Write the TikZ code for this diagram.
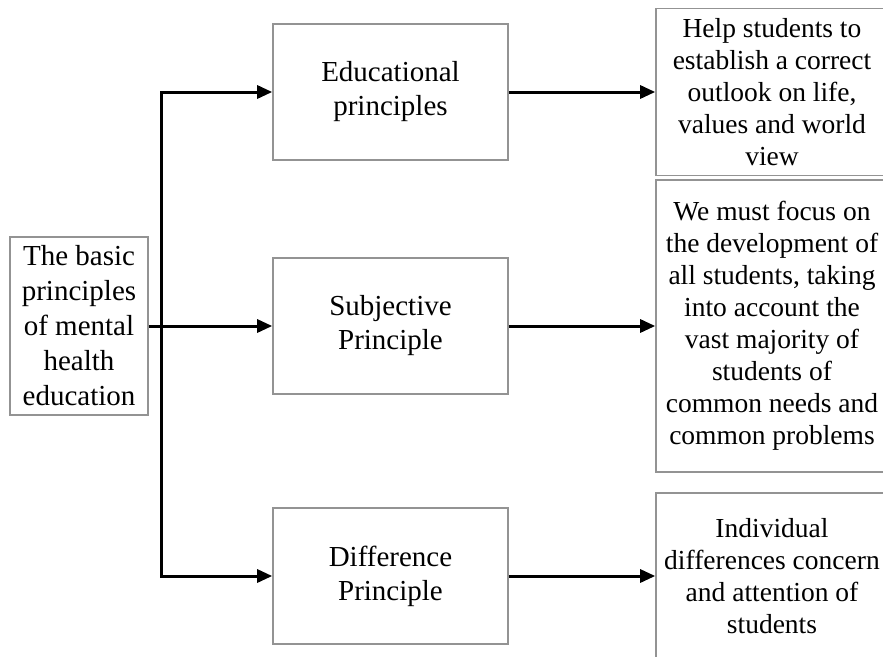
\documentclass[tikz,border=0pt]{standalone}
\usepackage{fontspec}
\setmainfont{Liberation Serif}
\usetikzlibrary{arrows.meta, positioning}

\begin{document}
\begin{tikzpicture}[
    x=1pt, y=-1pt,
    font=\fontsize{29}{34}\selectfont,
    >={Triangle[length=15pt,width=13pt]},
    every node/.style={align=center, inner sep=0pt},
    rootbox/.style={draw=gray!85, line width=1.6pt,
                    minimum width=138pt, minimum height=178pt,
                    font=\fontsize{29}{35}\selectfont},
    midbox/.style ={draw=gray!85, line width=1.6pt,
                    minimum width=235pt, minimum height=136pt},
    outbox/.style ={draw=gray!85, line width=1.6pt,
                    minimum width=232pt,
                    font=\fontsize{27.5}{32}\selectfont},
    arrow/.style  ={->, draw=black, line width=3pt},
  ]

  %% --- canvas ---------------------------------------------------------------
  \clip (0,0) rectangle (883,656);

  %% --- column x-positions and row y-positions -------------------------------
  \def\xR{79}       % root
  \def\xJ{161}      % split line
  \def\xM{390.5}    % principles
  \def\xO{772}      % outcomes

  \def\yTop{92}
  \def\yMid{326}
  \def\yLow{576}

  %% --- root ---------------------------------------------------------------
  \node[rootbox] (root) at (\xR,\yMid) {The basic\\principles\\of mental\\health\\education};

  %% --- principles ---------------------------------------------------------
  \node[midbox] (edu)  at (\xM,\yTop) {Educational\\principles};
  \node[midbox] (subj) at (\xM,\yMid) {Subjective\\Principle};
  \node[midbox] (diff) at (\xM,\yLow) {Difference\\Principle};

  %% --- outcomes -----------------------------------------------------------
  \node[outbox, minimum height=167pt] (help)  at (\xO,\yTop)
        {Help students to\\establish a correct\\outlook on life,\\values and world\\view};
  \node[outbox, minimum height=292pt] (focus) at (\xO,\yMid)
        {We must focus on\\the development of\\all students, taking\\into account the\\vast majority of\\students of\\common needs and\\common problems};
  \node[outbox, minimum height=166pt] (indiv) at (\xO,\yLow)
        {Individual\\differences concern\\and attention of\\students};

  %% --- arrows -------------------------------------------------------------
  \coordinate (split) at (\xJ,\yMid);
  \draw[arrow] (root.east) -- (subj.west);
  \draw[arrow] (split) |- (edu.west);
  \draw[arrow] (split) |- (diff.west);

  \draw[arrow] (edu.east)  -- (help.west);
  \draw[arrow] (subj.east) -- (focus.west);
  \draw[arrow] (diff.east) -- (indiv.west);

\end{tikzpicture}
\end{document}
